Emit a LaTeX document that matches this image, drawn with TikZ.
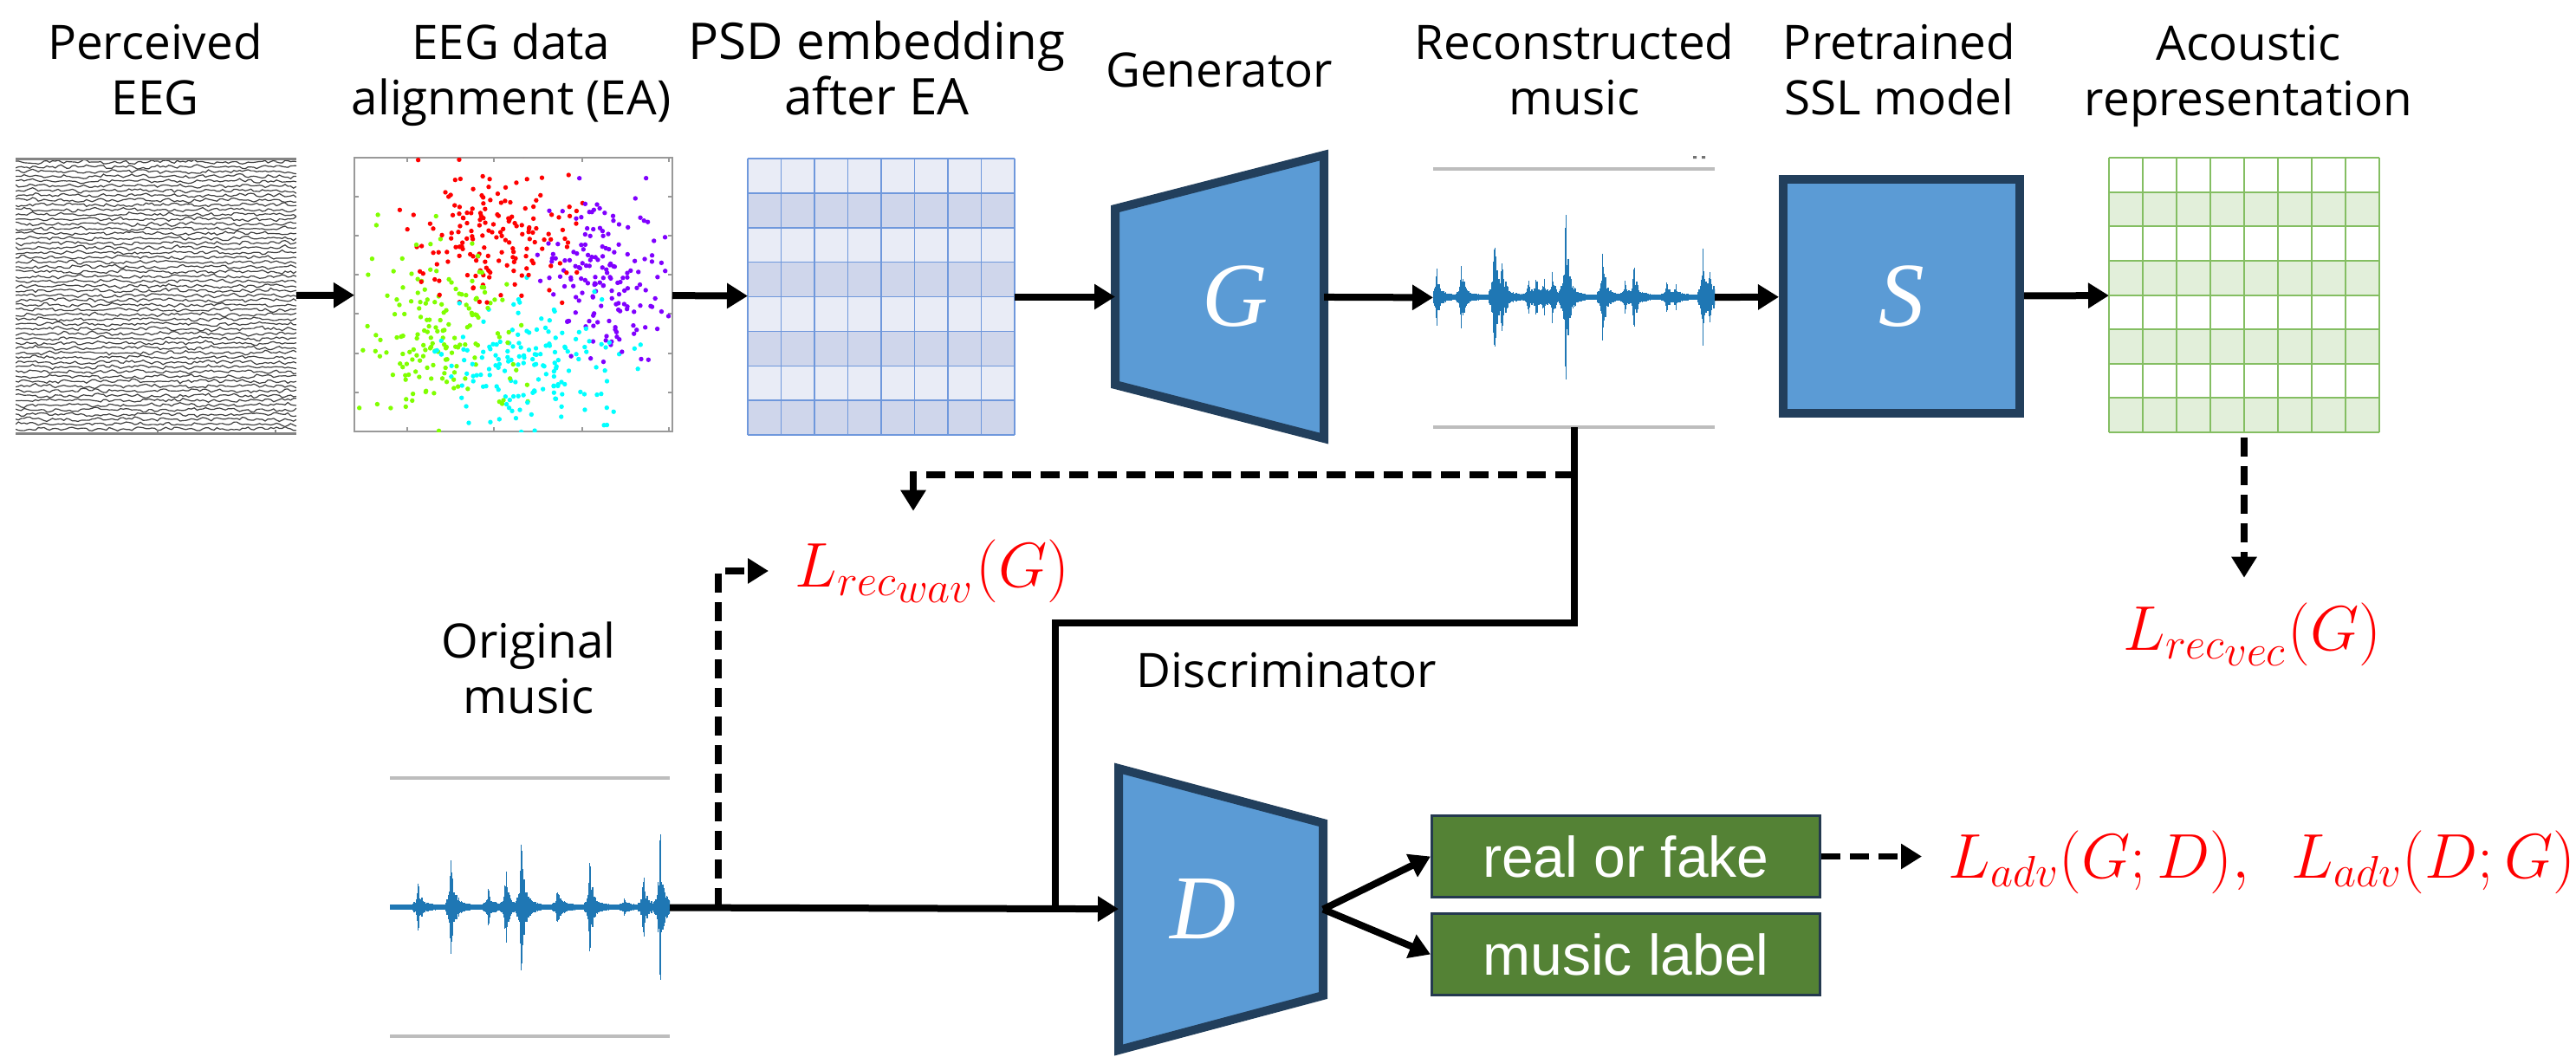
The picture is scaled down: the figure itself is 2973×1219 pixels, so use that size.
\documentclass[tikz,border=0pt]{standalone}
\usepackage[no-math]{fontspec}
\setmainfont{Open Sans}
\newfontfamily\boxfnt{Liberation Sans}
\newfontfamily\letterfnt{Liberation Serif}
\usetikzlibrary{arrows.meta,backgrounds}

\definecolor{blockfill}{HTML}{5B9BD5}
\definecolor{blockline}{HTML}{223F5C}
\definecolor{psdlight}{HTML}{E9ECF6}
\definecolor{psddark}{HTML}{CFD6EB}
\definecolor{psdline}{HTML}{6F98DC}
\definecolor{acoufill}{HTML}{E2EFDA}
\definecolor{acouline}{HTML}{84BE62}
\definecolor{wave}{HTML}{1F77B4}
\definecolor{axisgray}{HTML}{BDBDBD}
\definecolor{outfill}{HTML}{548235}
\definecolor{outborder}{HTML}{24394F}
\definecolor{lossred}{HTML}{FF0000}
\definecolor{tsnered}{HTML}{FF0000}
\definecolor{tsnepurple}{HTML}{8000FF}
\definecolor{tsnegreen}{HTML}{80FF00}
\definecolor{tsnecyan}{HTML}{00FFFF}

\newcommand{\ttlfont}{\fontsize{15.6}{18.2}\selectfont}
\newcommand{\lossfnt}{\fontsize{19.5}{23}\selectfont}

% one burst of a waveform: x, y of the axis, peak height
\newcommand{\burst}[3]{%
  \foreach \dx in {-6,-4.9,...,24}{%
    \pgfmathsetmacro\hh{#3*(0.62*exp(-abs(\dx)/1.6)+0.38*exp(-abs(\dx)/((\dx<0) ? 2.5 : 6)))*(0.4+0.6*rnd)+3}%
    \draw[wavestroke] ({#1+\dx},{#2-\hh}) -- ({#1+\dx},{#2+\hh});}}

\begin{document}
\begin{tikzpicture}[x=0.1mm, y=-0.1mm,
  title/.style = {font=\ttlfont, align=center, anchor=base, inner sep=0pt},
  holder/.style = {inner sep=0pt, outer sep=0pt},
  block/.style = {draw=blockline, fill=blockfill, line width=1mm},
  letter/.style = {text=white, font=\letterfnt\itshape\fontsize{30}{30}\selectfont},
  outbox/.style = {draw=outborder, fill=outfill, line width=0.3mm, text=white,
    font=\boxfnt\fontsize{18.8}{20}\selectfont, minimum width=44.8mm,
    minimum height=9.4mm, inner sep=0pt},
  loss/.style = {text=lossred, font=\lossfnt, inner sep=0pt, anchor=base west},
  link/.style = {line width=0.8mm},
  arr/.style = {link, -{Triangle[length=2.4mm,width=2.8mm]}},
  dashlink/.style = {line width=0.75mm, dash pattern=on 2.2mm off 1.1mm},
  dasharr/.style = {dashlink, -{Triangle[length=2.4mm,width=2.8mm]}},
  trace/.style = {draw=black!75, line width=0.12mm},
  wavestroke/.style = {draw=wave, line width=0.14mm}]
\pgfmathsetseed{11}
\begin{scope}[on background layer]
  \fill[white] (0,0) rectangle (2973,1219);
\end{scope}
\useasboundingbox (0,0) rectangle (2973,1219);

% titles of the top row (base = last line)
\node[title] (t-eeg) at (179,132) {Perceived\\EEG};
\node[title] (t-ea) at (590,132) {EEG data\\alignment (EA)};
\node[title, font=\fontsize{16.6}{18.2}\selectfont] (t-psd) at (1012,132) {PSD embedding\\after EA};
\node[title] (t-gen) at (1407,100) {Generator};
\node[title] (t-rec) at (1817,132) {Reconstructed\\music};
\node[title] (t-ssl) at (2192,132) {Pretrained\\SSL model};
\node[title] (t-acou) at (2595,133) {Acoustic\\representation};

% perceived EEG
\node[holder, minimum width=32.4mm, minimum height=31.7mm] (eeg) at (180,341.5) {};
\begin{scope}
  \clip (18,183) rectangle (342,500);
  \foreach \k in {0,...,56}{
    \pgfmathsetmacro\yk{187+5.5*\k}
    \pgfmathsetmacro\pha{360*rnd}
    \pgfmathsetmacro\phb{360*rnd}
    \draw[trace] plot[domain=18:342, samples=100]
      (\x,{\yk+0.8*sin(23*(\x-18)+\pha)+1.4*sin(6*(\x-18)+\phb)*sin(3*(\x-18)+4*\k)+1.2*rand});
  }
\end{scope}
\draw[axisgray!70!black, line width=0.3mm] (eeg.north west) -- (eeg.north east)
  (eeg.south west) -- (eeg.south east);
\foreach \tx in {182,318}
  \draw[axisgray!70!black, line width=0.15mm] (\tx,183) -- ++(0,4) (\tx,500) -- ++(0,-4);

% t-SNE after alignment
\node[holder, draw=black!40, line width=0.15mm, minimum width=36.7mm, minimum height=31.6mm] (tsne) at (592.5,340) {};
\foreach \tx in {470,570,672,772}
  \draw[black!40, line width=0.15mm] (\tx,182) -- ++(0,5) (\tx,498) -- ++(0,-5);
\foreach \ty in {227,272,317,362,408,453}
  \draw[black!40, line width=0.15mm] (409,\ty) -- ++(5,0) (776,\ty) -- ++(-5,0);
\begin{scope}
  \clip (tsne.north west) rectangle (tsne.south east);
  \foreach \i in {1,...,170}{
    \foreach \c/\cx/\cy/\sx/\sy in {tsnered/565/275/50/42, tsnepurple/700/322/34/45,
        tsnegreen/505/382/45/50, tsnecyan/610/425/55/40}
      \fill[\c] ({\cx+\sx*(rand+rand+rand)},{\cy+\sy*(rand+rand+rand)}) circle[radius=0.27mm];
  }
\end{scope}

% PSD embedding
\node[holder, minimum width=30.8mm, minimum height=31.9mm] (psd) at (1017,342.5) {};
\fill[psdlight] (psd.north west) rectangle (psd.south east);
\foreach \r in {1,3,5,7}
  \fill[psddark] (863,{183+39.875*\r}) rectangle (1171,{183+39.875*(\r+1)});
\foreach \i in {0,...,8}
  \draw[psdline, line width=0.15mm] ({863+38.5*\i},183) -- ({863+38.5*\i},502)
    (863,{183+39.875*\i}) -- (1171,{183+39.875*\i});

% generator
\node[holder, minimum width=24.1mm, minimum height=32.7mm,
  label={[letter, xshift=1.8mm]center:G}] (gen) at (1407.5,342.5) {};
\begin{scope}[on background layer]
  \draw[block] ([yshift=-6.2mm]gen.north west) -- (gen.north east)
    -- (gen.south east) -- ([yshift=6.2mm]gen.south west) -- cycle;
\end{scope}

% reconstructed music
\node[holder, minimum width=32.5mm, minimum height=29.8mm] (recwave) at (1816.5,344) {};
\draw[axisgray, line width=0.4mm] (recwave.north west) -- (recwave.north east)
  (recwave.south west) -- (recwave.south east);
\fill[black!55] (1954,180) rectangle ++(4,3) (1964,180) rectangle ++(4,3);
\begin{scope}
  \clip (recwave.north west) rectangle (recwave.south east);
  \fill[wave] (1654,340) rectangle (1979,346);
  \foreach \bx/\ba in {1658/40, 1687/45, 1725/105, 1734/62, 1764/25, 1773/32, 1782/28,
      1792/35, 1807/130, 1850/62, 1876/25, 1886/45, 1924/22, 1934/18, 1966/72, 1974/45}
    {\burst{\bx}{343}{\ba}}
\end{scope}

% pretrained SSL model
\node[block, letter, minimum width=27.3mm, minimum height=27mm] (ssl) at (2194.5,342) {S};

% acoustic representation
\node[holder, minimum width=31.2mm, minimum height=31.7mm] (acou) at (2590,340.5) {};
\foreach \r in {1,3,5,7}
  \fill[acoufill] (2434,{182+39.625*\r}) rectangle (2746,{182+39.625*(\r+1)});
\foreach \i in {0,...,8}
  \draw[acouline, line width=0.2mm] ({2434+39*\i},182) -- ({2434+39*\i},499)
    (2434,{182+39.625*\i}) -- (2746,{182+39.625*\i});

% original music
\node[title] (t-orig) at (610,823) {Original\\music};
\node[holder, minimum width=32.3mm, minimum height=29.8mm] (origwave) at (611.5,1047) {};
\draw[axisgray, line width=0.4mm] (origwave.north west) -- (origwave.north east)
  (origwave.south west) -- (origwave.south east);
\begin{scope}
  \clip (origwave.north west) rectangle (origwave.south east);
  \fill[wave] (450,1044) rectangle (773,1050);
  \foreach \bx/\ba in {483/33, 521/78, 564/30, 584/54, 602/112, 644/33, 681/66,
      721/10, 743/49, 762/108}
    {\burst{\bx}{1047}{\ba}}
\end{scope}

% discriminator
\node[title] (t-disc) at (1485,793) {Discriminator};
\node[holder, minimum width=23.6mm, minimum height=32.5mm,
  label={[letter, xshift=-2mm]center:D}] (disc) at (1409,1049.5) {};
\begin{scope}[on background layer]
  \draw[block] (disc.north west) -- ([yshift=-6.3mm]disc.north east)
    -- ([yshift=6.3mm]disc.south east) -- (disc.south west) -- cycle;
\end{scope}
\node[outbox] (rof) at (1876.5,988.5) {real or fake};
\node[outbox] (mlabel) at (1876.5,1101.5) {music label};

% losses
\node[loss] (Lwav) at (917,677) {$L_{rec_{\scriptstyle wav}}(G)$};
\node[loss] (Lvec) at (2450,750) {$L_{rec_{\scriptstyle vec}}(G)$};
\node[loss, font=\fontsize{20.1}{24}\selectfont] (Ladv) at (2248,1013) {$L_{adv}(G;D),~~L_{adv}(D;G)$};

% connectors
\draw[arr] (eeg) -- (tsne);
\draw[arr] (tsne) -- (psd);
\draw[arr] (psd) -- (gen);
\draw[arr] (gen) -- (recwave);
\draw[arr] (recwave) -- (ssl);
\draw[arr] (ssl) -- (acou);
\coordinate (rtap) at (recwave.south |- 0,548);
\coordinate (bend) at (1218,719);
\coordinate (join) at (1218,1047);
\coordinate (otap) at (829,1047);
\draw[link] (recwave.south) |- (bend) -- (join);
\draw[dasharr, shorten >=3.2mm] (rtap) -| ([xshift=13.7mm]Lwav.north west);
\draw[arr] (origwave) -- (disc);
\draw[dasharr, shorten >=3mm] (otap) |- (Lwav.west);
\draw[arr] (disc.east) -- (rof.west);
\draw[arr] (disc.east) -- (mlabel.west);
\draw[dasharr, shorten >=3mm] (rof.east) -- (rof.east -| Ladv.west);
\draw[dasharr, shorten <=0.6mm, shorten >=2.8mm] (acou.south) -- (acou.south |- Lvec.north);
\end{tikzpicture}
\end{document}
